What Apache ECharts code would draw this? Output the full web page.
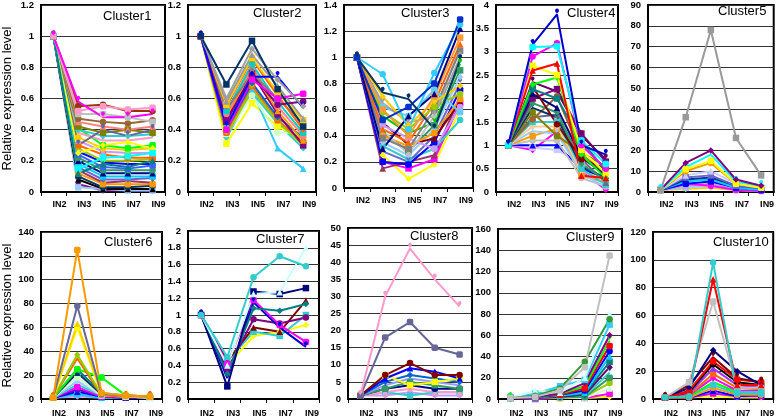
<!DOCTYPE html>
<html><head><meta charset="utf-8">
<script src="https://cdn.jsdelivr.net/npm/echarts@6/dist/echarts.min.js"></script>
<style>html,body{margin:0;padding:0;background:#fff}#c{width:777px;height:418px}</style>
</head><body><div id="c"></div>
<script>
const categories = ['IN2','IN3','IN5','IN7','IN9'];
const clusterNames = ['Cluster1','Cluster2','Cluster3','Cluster4','Cluster5','Cluster6','Cluster7','Cluster8','Cluster9','Cluster10'];
const yMaxes = [1.2,1.2,1.4,4,90,140,2,50,160,120];
const yIntervals = [0.2,0.2,0.2,0.5,10,20,0.2,5,20,20];

const cluster1 = [
[1,0.05,0.01,0.01,0.01],[1,0.03,0.02,0.01,0.01],[1,0.08,0.02,0.02,0.02],[1,0.10,0.03,0.03,0.04],
[1,0.12,0.05,0.05,0.05],[1,0.14,0.06,0.07,0.06],[1,0.16,0.08,0.08,0.09],[1,0.18,0.10,0.10,0.10],
[1,0.20,0.12,0.12,0.12],[1,0.22,0.14,0.14,0.14],[1,0.24,0.16,0.15,0.17],[1,0.26,0.19,0.18,0.18],
[1,0.28,0.20,0.20,0.21],[1,0.30,0.24,0.22,0.22],[1,0.33,0.26,0.25,0.25],[1,0.35,0.28,0.27,0.28],
[1,0.41,0.30,0.28,0.30],[1,0.38,0.33,0.33,0.35],[1,0.40,0.36,0.36,0.37],[1,0.42,0.38,0.40,0.38],
[1,0.45,0.42,0.40,0.42],[1,0.47,0.45,0.44,0.46],[1,0.50,0.50,0.48,0.45],[1,0.30,0.40,0.36,0.40],
[1,0.25,0.30,0.32,0.28],[1,0.15,0.22,0.23,0.25],[1,0.12,0.18,0.16,0.20],[1,0.55,0.56,0.52,0.52],
[1,0.52,0.55,0.53,0.54],[1,0.58,0.48,0.48,0.50]
];
const cluster1Colors = ['#800080','#99CCFF','#000000','#003366','#FF9900','#993366','#6666CC','#00CCFF','#000080','#339966','#3366FF','#0000FF','#99CC00','#FF6600','#CC99FF','#FFCC00','#00FF00','#FF99CC','#33CCCC','#808000','#FF8080','#996633','#C0C0C0','#666699','#FFFF00','#00FFFF','#008080','#993300','#FF99CC','#FF00FF'];

const cluster2 = [
[1,0.35,0.64,0.44,0.28],[1,0.31,0.57,0.42,0.34],[1,0.44,0.65,0.28,0.15],[1,0.37,0.62,0.38,0.38],
[1,0.38,0.68,0.46,0.32],[1,0.36,0.66,0.45,0.30],[1,0.40,0.70,0.48,0.35],[1,0.45,0.76,0.50,0.30],
[1,0.48,0.78,0.52,0.33],[1,0.50,0.80,0.55,0.36],[1,0.52,0.82,0.58,0.38],[1,0.53,0.76,0.60,0.44],
[1,0.55,0.85,0.62,0.40],[1,0.56,0.86,0.64,0.46],[1,0.58,0.88,0.68,0.47],[1,0.46,0.75,0.56,0.58],
[1,0.40,0.72,0.60,0.63],[1,0.42,0.74,0.74,0.54],[1,0.60,0.92,0.72,0.55],[1,0.69,0.97,0.66,0.42]
];
const cluster2Colors = ['#33CCCC','#FFFF00','#33CCFF','#CCFFCC','#FF6600','#99CC00','#0066CC','#800080','#FF9900','#FF8080','#00CCCC','#808080','#FF6600','#FFCC00','#999999','#800080','#FF00FF','#0000FF','#A0A0A0','#003366'];

const cluster3 = [
[1,0.25,0.07,0.18,0.60],[1,0.20,0.15,0.22,0.65],[1,0.15,0.20,0.25,0.70],[1,0.32,0.22,0.30,0.52],
[1,0.20,0.18,0.35,0.75],[1,0.28,0.20,0.40,0.80],[1,0.35,0.25,0.45,0.85],[1,0.42,0.28,0.48,0.90],
[1,0.50,0.33,0.38,0.66],[1,0.48,0.38,0.30,0.62],[1,0.40,0.32,0.42,0.68],[1,0.55,0.42,0.50,0.95],
[1,0.44,0.26,0.55,1.08],[1,0.38,0.30,0.60,1.05],[1,0.45,0.35,0.65,1.10],[1,0.58,0.45,0.62,0.72],
[1,0.62,0.55,0.75,0.58],[1,0.65,0.50,0.55,1.00],[1,0.70,0.48,0.66,0.78],[1,0.60,0.40,0.70,1.15],
[1,0.30,0.55,0.72,1.22],[1,0.87,0.45,0.88,1.25],[1,0.52,0.62,0.80,1.29],[1,0.73,0.68,0.45,0.98]
];
const cluster3Colors = ['#FFFF00','#FF00FF','#993366','#33CCCC','#0000FF','#6666CC','#99CCFF','#339966','#800000','#CC99FF','#FF9900','#00CC00','#C0C0C0','#808080','#FF6600','#99CC00','#66CCFF','#A0A0A0','#FFCC00','#FF9933','#000080','#33CCFF','#0033CC','#003366'];

const cluster4 = [
[1,0.90,1.30,0.45,0.05],[1,0.95,0.90,0.60,0.15],[1,1.00,1.00,0.50,0.30],[1,1.10,1.10,0.30,0.12],
[1,1.20,1.35,0.35,0.20],[1,1.30,1.25,0.40,0.10],[1,1.40,1.40,0.45,0.25],[1,1.50,1.50,0.50,0.15],
[1,1.60,1.65,0.70,0.20],[1,1.55,2.05,0.80,0.40],[1,1.70,1.20,0.85,0.55],[1,1.80,1.60,0.55,0.30],
[1,1.90,1.70,0.60,0.25],[1,2.00,2.20,1.25,0.65],[1,2.10,1.80,0.75,0.35],[1,2.25,1.45,0.70,0.50],
[1,2.20,2.00,1.10,0.45],[1,2.35,2.15,1.20,0.70],[1,2.30,2.45,0.80,0.30],[1,2.70,2.50,0.90,0.40],
[1,2.60,2.75,0.35,0.30],[1,2.90,3.18,1.00,0.50],[1,3.10,3.12,1.10,0.60],[1,3.15,3.80,1.00,0.80]
];
const cluster4Colors = ['#FF00FF','#CCCCFF','#0000FF','#C0C0C0','#FF9900','#99CCFF','#FFCC99','#33CCCC','#666699','#996633','#808000','#003366','#339966','#800080','#000080','#800000','#008080','#660066','#00FF00','#FFFF00','#FF0000','#FF00FF','#00FFFF','#0000CC'];

const cluster5 = [
[1,1.5,2,1,0.5],[1,2,3,1,0.5],[1,3,4,1,1],[1,4,3,1,0.5],[1,4,5,2,1],[1,5,6,2,1],
[1,6,7,3,2],[1,7,8,3,2],[1,8,10,4,3],[1,10,14,4,2],[1,11,15,4,2],[1,12,18,5,3],
[1,14,20,6,3],[1,36,78,26,8]
];
const cluster5Colors = ['#FFCC00','#99CCFF','#CC99FF','#FF00FF','#0000FF','#00CCFF','#003399','#6666CC','#CCCCFF','#FF9900','#FFFF00','#00FFFF','#800080','#999999'];

const cluster6 = [
[1,2,1,1,1],[1,4,1,1,1],[1,6,2,1,1],[1,8,2,1,1],[1,10,2,2,1],[1,12,3,2,1],
[1,15,3,2,1],[1,18,3,2,1],[1,22,4,3,2],[1,25,5,3,2],[1,25,18,3,2],[1,34,3,2,2],
[1,37,4,3,2],[1,60,4,3,2],[1,63,5,3,2],[1,78,4,3,2],[1,125,5,3,2]
];
const cluster6Colors = ['#CC99FF','#00CCFF','#0000FF','#6600CC','#FF00FF','#33CCCC','#99CCFF','#CCFFCC','#003366','#008080','#00FF00','#FF6600','#99CC00','#FFFF00','#FFCC00','#666699','#FF9900'];

const cluster7 = [
[1,0.40,0.75,0.80,0.88],[1,0.45,0.80,0.75,1.00],[1,0.45,0.85,0.80,1.17],[1,0.35,0.95,0.90,0.97],
[1,0.42,1.18,0.88,0.68],[1,0.25,1.15,0.85,0.62],[1,0.30,1.08,1.05,1.13],[1,0.15,1.28,1.25,1.32],
[1,0.40,1.25,1.27,1.80],[1,0.50,1.45,1.70,1.58]
];
const cluster7Colors = ['#FFFF00','#33CCCC','#800000','#800080','#FF00FF','#0000CC','#008080','#000080','#CCFFFF','#33CCCC'];

const cluster8 = [
[1,1,2,1,1],[1,2,1,2,2],[1,2,3,2,2],[1,3,4,3,3],[1,3,5,4,3],[1,4,6,5,4],
[1,5,7,6,5],[1,7,4,5,6],[1,6,9,8,6],[1,7,10.5,7,7],[1,18,22.5,15,13],[1,30,44,35,27]
];
const cluster8Colors = ['#CC99FF','#33CCCC','#FF99CC','#000080','#339966','#9999FF','#0066CC','#FFFF00','#0000FF','#800000','#666699','#FF99CC'];

const cluster9 = [
[1,1,1,1,2],[1,0,1,1,5],[1,1,1,1,10],[1,1,1,2,15],[1,1,2,2,20],[1,1,2,3,25],
[1,1,2,4,30],[1,1,3,5,35],[1,2,3,6,40],[1,2,4,8,45],[1,2,4,10,50],[1,2,5,12,55],
[1,2,5,15,60],[1,5,12,18,70],[1,8,6,20,80],[1,3,10,35,75],[1,2,8,30,135]
];
const cluster9Colors = ['#FFFF00','#FF00FF','#CCFFCC','#99CC00','#339966','#33CCCC','#660066','#008080','#00CCFF','#0000FF','#FF0000','#00FF00','#800080','#33CCFF','#CCFFFF','#339933','#C0C0C0'];

const cluster10 = [
[1,1,2,1,1],[1,1,4,2,2],[1,1,6,2,3],[1,1,8,3,3],[1,2,10,4,4],[1,2,12,5,5],
[1,3,15,6,6],[1,3,18,8,7],[1,4,22,10,8],[1,5,25,12,10],[1,6,27,14,12],[1,10,30,15,12],
[1,8,35,20,10],[1,12,70,8,8],[1,5,86,10,10],[1,2,98,5,5]
];
const cluster10Colors = ['#FFFF00','#CC00FF','#0000FF','#FF9900','#33CCCC','#00FF00','#FF00FF','#FF6600','#9933FF','#000000','#FF0000','#800000','#000080','#C0C0C0','#FF0000','#33CCCC'];

const clusters = [cluster1,cluster2,cluster3,cluster4,cluster5,cluster6,cluster7,cluster8,cluster9,cluster10];
const clusterColors = [cluster1Colors,cluster2Colors,cluster3Colors,cluster4Colors,cluster5Colors,cluster6Colors,cluster7Colors,cluster8Colors,cluster9Colors,cluster10Colors];

const gridRects = [
  [39,2,126,190],[188,2,128,190],[344,3,129,185],[496,3,122,189],[648,3,127,189],
  [39,232,123,169],[188,231,131,169],[348,228,124,173],[498,229,124,172],[653,232,122,170]
];
const titlePos = [[103,10],[253,7],[401,7],[567,7],[718,5],[104,236],[256,233],[410,230],[566,231],[713,236]];
const symbols = ['diamond','rect','triangle','circle','roundRect','pin'];

const grids=[], xAxes=[], yAxes=[], series=[], titles=[];
clusters.forEach((cl,i)=>{
  const g = gridRects[i];
  grids.push({left:g[0],top:g[1],width:g[2],height:g[3],show:true,borderColor:'#000',borderWidth:2,backgroundColor:'transparent',containLabel:false});
  xAxes.push({type:'category',gridIndex:i,data:categories,boundaryGap:true,
    axisLine:{lineStyle:{color:'#000',width:2}},
    axisTick:{show:true,length:4,lineStyle:{color:'#000',width:1}},
    axisLabel:{color:'#000',fontFamily:'Arial',fontWeight:'bold',fontSize:9,margin:i<5?8:10,padding:[0,0,0,12]}});
  const y = {type:'value',gridIndex:i,min:0,max:yMaxes[i],interval:yIntervals[i],
    axisLine:{show:true,lineStyle:{color:'#000',width:2}},axisTick:{show:false},
    splitLine:{lineStyle:{color:'#333',width:1.2}},
    axisLabel:{color:'#000',fontFamily:'Arial',fontWeight:'bold',fontSize:9.5,margin:7}};
  if(i===0||i===5){
    Object.assign(y,{name:'Relative expression level',nameLocation:'middle',nameGap:27,
      nameTextStyle:{color:'#000',fontFamily:'Arial',fontSize:13}});
  }
  yAxes.push(y);
  titles.push({text:clusterNames[i],left:titlePos[i][0],top:titlePos[i][1],padding:0,
    textStyle:{color:'#000',fontFamily:'Arial',fontSize:13,fontWeight:'normal'}});
  cl.forEach((row,j)=>{
    const col = clusterColors[i][j % clusterColors[i].length];
    series.push({type:'line',xAxisIndex:i,yAxisIndex:i,data:row,
      symbol:symbols[j%symbols.length],symbolSize:6.5,showSymbol:true,
      lineStyle:{color:col,width:2},itemStyle:{color:col},silent:true});
  });
});

const chart = echarts.init(document.getElementById('c'),null,{renderer:'canvas'});
chart.setOption({animation:false,title:titles,grid:grids,xAxis:xAxes,yAxis:yAxes,series:series});
</script></body></html>
